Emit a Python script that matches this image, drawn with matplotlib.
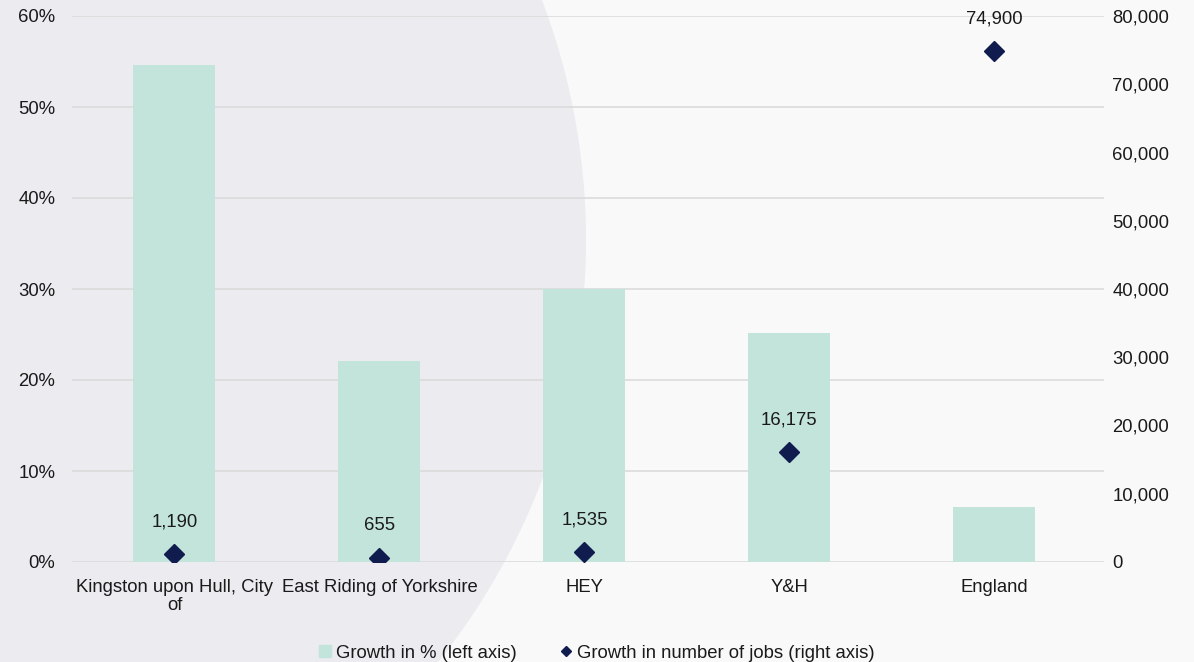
import matplotlib
matplotlib.use("Agg")
import matplotlib.pyplot as plt
from matplotlib.patches import Ellipse
from matplotlib.lines import Line2D
from matplotlib.ticker import FuncFormatter, MultipleLocator

plt.rcParams['font.family'] = ['Liberation Sans', 'DejaVu Sans']

areas = ['Kingston upon Hull, City\nof', 'East Riding of Yorkshire', 'HEY', 'Y&H', 'England']
growth_pct = [54.6, 22.1, 30.0, 25.2, 6.0]
growth_jobs = [1190, 655, 1535, 16175, 74900]

bar_col = '#c3e4db'
dot_col = '#111c4e'
txt_col = '#1a1a1a'
grid_col = '#d9d9d9'
fs = 13.3

W, H = 1194, 662
fig = plt.figure(figsize=(W / 100, H / 100), dpi=100, facecolor='#f9f9f9')

# decorative circle in the background
cx, cy, R = -90, 240, 676
fig.patches.append(Ellipse((cx / W, 1 - cy / H), 2 * R / W, 2 * R / H,
                           transform=fig.transFigure, facecolor='#ecebf0',
                           edgecolor='none', zorder=-5))

ax = fig.add_axes([72 / W, 1 - 562 / H, (1104 - 72) / W, (562 - 16) / H])
ax.patch.set_alpha(0)
x = range(len(areas))
ax.bar(x, growth_pct, width=0.4, color=bar_col, zorder=2)
ax.set_xlim(-0.5, 4.535)
ax.set_ylim(0, 60)
ax.yaxis.set_major_locator(MultipleLocator(10))
ax.yaxis.set_major_formatter(FuncFormatter(lambda v, p: f'{v:.0f}%'))
ax.grid(axis='y', color=grid_col, linewidth=1.1, zorder=1)
ax.set_axisbelow(True)
ax.set_xticks(list(x))
ax.set_xticklabels(areas, fontsize=fs, color=txt_col, linespacing=1.12)
ax.tick_params(axis='x', length=0, pad=12)
ax.tick_params(axis='y', length=0, pad=12, labelsize=fs, labelcolor=txt_col)
for s in ax.spines.values():
    s.set_visible(False)

ax2 = ax.twinx()
ax2.plot(list(x), growth_jobs, linestyle='none', marker='D', markersize=10,
         color=dot_col, zorder=4)
for xi, v in zip(x, growth_jobs):
    ax2.annotate(f'{v:,}', (xi, v), xytext=(0, 23), textcoords='offset points',
                 ha='center', va='center', fontsize=fs, color=txt_col)
ax2.set_ylim(0, 80000)
ax2.yaxis.set_major_locator(MultipleLocator(10000))
ax2.yaxis.set_major_formatter(FuncFormatter(lambda v, p: f'{v:,.0f}'))
ax2.tick_params(axis='y', length=0, pad=6, labelsize=fs, labelcolor=txt_col)
for s in ax2.spines.values():
    s.set_visible(False)

handles = [
    Line2D([], [], linestyle='none', marker='s', markersize=8, color=bar_col),
    Line2D([], [], linestyle='none', marker='D', markersize=5, color=dot_col),
]
fig.legend(handles, ['Growth in % (left axis)', 'Growth in number of jobs (right axis)'],
           loc='center', bbox_to_anchor=(0.5, 1 - 653 / H), ncol=2, frameon=False,
           fontsize=fs, labelcolor=txt_col, handlelength=0.6, handletextpad=0.3,
           columnspacing=2.4)

fig.savefig('out.png', dpi=100, facecolor=fig.get_facecolor())
